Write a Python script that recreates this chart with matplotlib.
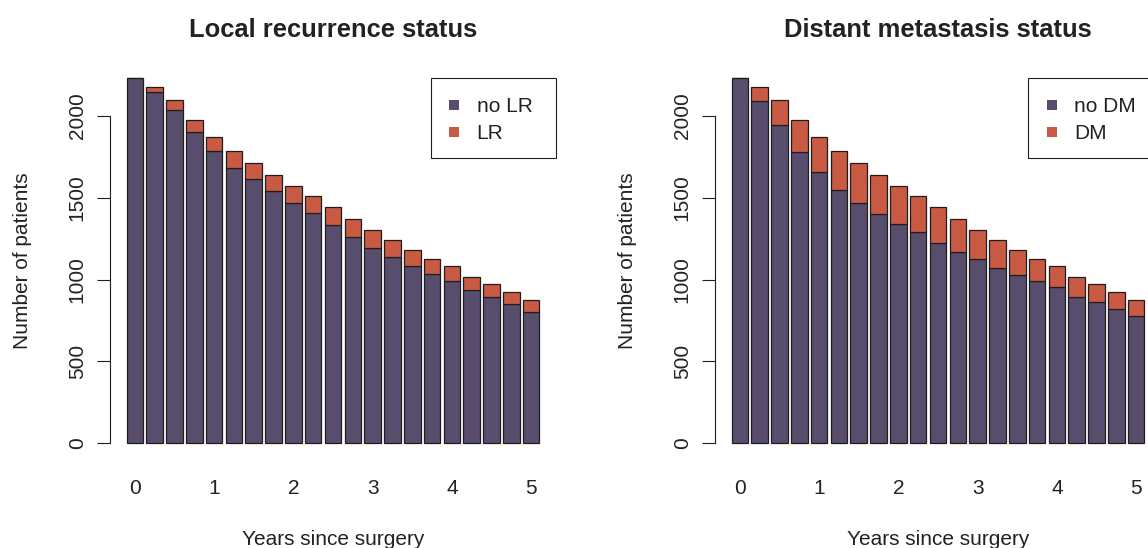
import matplotlib
matplotlib.use("Agg")
import matplotlib.pyplot as plt
from matplotlib.patches import Rectangle
import numpy as np

plt.rcParams['font.family'] = ['Liberation Sans', 'DejaVu Sans']

# ---- data ----
years = [0, 0.25, 0.5, 0.75, 1, 1.25, 1.5, 1.75, 2, 2.25, 2.5, 2.75, 3,
         3.25, 3.5, 3.75, 4, 4.25, 4.5, 4.75, 5]
no_lr = [2230, 2148, 2036, 1900, 1784, 1682, 1613, 1541, 1466, 1405, 1332,
         1262, 1191, 1136, 1083, 1036, 993, 938, 894, 849, 802]
lr = [0, 27, 61, 73, 87, 102, 97, 100, 108, 108, 112, 108, 112, 104, 96, 92,
      88, 78, 77, 73, 71]
no_dm = [2230, 2091, 1944, 1781, 1657, 1547, 1466, 1399, 1338, 1291, 1222,
         1169, 1126, 1073, 1028, 990, 953, 894, 863, 822, 780]
dm = [0, 84, 153, 192, 214, 237, 244, 242, 236, 222, 222, 201, 177, 167, 151,
      138, 128, 122, 108, 100, 93]
x_tick_years = [0, 1, 2, 3, 4, 5]
y_ticks = [0, 500, 1000, 1500, 2000]
titles = ["Local recurrence status", "Distant metastasis status"]
legend_labels = [["no LR", "LR"], ["no DM", "DM"]]

PURPLE = "#594d6e"
ORANGE = "#c95b44"
EDGE = "#1e1e1e"
TXT = "#222222"

W, H = 1148, 548
fig = plt.figure(figsize=(W / 100, H / 100), dpi=100)


def fx(px):
    return px / W


def fy(py):
    return 1 - py / H


panels = [(no_lr, lr, 110, 320.7, 125), (no_dm, dm, 715, 313.3, 133)]
ax_w = 446
ax_top, ax_bot = 63.7, 457.9
FS = 15

for k, (base, top, left_px, leg_off, leg_w) in enumerate(panels):
    ax = fig.add_axes([fx(left_px), fy(ax_bot), ax_w / W, (ax_bot - ax_top) / H])
    pos = np.arange(len(years))
    ax.bar(pos, base, width=1 / 1.2, color=PURPLE, edgecolor=EDGE, linewidth=0.9)
    ax.bar(pos, top, width=1 / 1.2, bottom=base, color=ORANGE, edgecolor=EDGE,
           linewidth=0.9)
    ax.set_xlim(-1.25, 21.25)
    ax.set_ylim(-89.2, 2319.2)
    for s in ['top', 'right', 'bottom']:
        ax.spines[s].set_visible(False)
    ax.spines['left'].set_bounds(0, 2000)
    ax.spines['left'].set_linewidth(0.8)
    ax.spines['left'].set_color(EDGE)
    ax.set_yticks(y_ticks)
    ax.set_yticklabels([str(v) for v in y_ticks], rotation=90, va='center',
                       fontsize=FS, color=TXT)
    ax.tick_params(axis='y', length=9.4, width=0.8, color=EDGE, pad=7.3)
    tick_pos = [years.index(y) for y in x_tick_years]
    ax.set_xticks(tick_pos)
    ax.set_xticklabels([str(v) for v in x_tick_years], fontsize=FS, color=TXT)
    ax.tick_params(axis='x', length=0, pad=15)

    cx = left_px + ax_w / 2
    fig.text(fx(cx), fy(37), titles[k], ha='center', va='baseline',
             fontsize=18.4, fontweight='bold', color=TXT)
    fig.text(fx(cx), fy(545), "Years since surgery", ha='center', va='baseline',
             fontsize=FS, color=TXT)
    fig.text(fx(left_px - 87), fy((ax_top + ax_bot) / 2), "Number of patients",
             rotation=90, ha='center', va='center', fontsize=FS, color=TXT)

    # legend box
    lx0 = left_px + leg_off
    fig.add_artist(Rectangle((fx(lx0), fy(157.7)), leg_w / W, (157.7 - 78.3) / H,
                             transform=fig.transFigure, facecolor='white',
                             edgecolor=EDGE, linewidth=0.8))
    for j, (lab, col) in enumerate(zip(legend_labels[k], [PURPLE, ORANGE])):
        cy = 105.3 + j * 26.7
        fig.add_artist(Rectangle((fx(lx0 + 18.6), fy(cy + 5)), 10 / W, 10 / H,
                                 transform=fig.transFigure, facecolor=col,
                                 edgecolor='none'))
        fig.text(fx(lx0 + 46), fy(cy + 7), lab, ha='left', va='baseline',
                 fontsize=FS, color=TXT)

fig.savefig("out.png", dpi=100)
